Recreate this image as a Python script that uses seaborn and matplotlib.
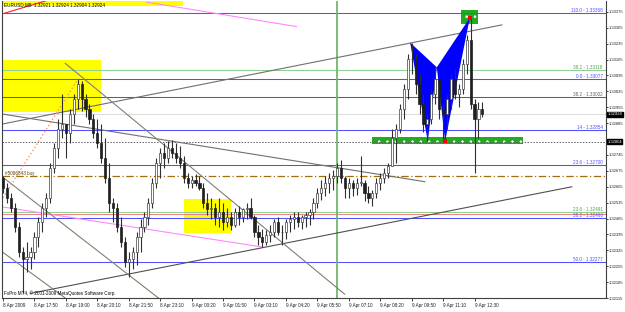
import matplotlib
matplotlib.use("Agg")
import matplotlib.pyplot as plt
import seaborn as sns
import numpy as np
import pandas as pd

# ---------------- data (EURUSD M5) ----------------
open0 = 1.32644
highs = [1.32653, 1.32622, 1.32579, 1.32535, 1.32448, 1.32339, 1.32361, 1.32339, 1.32405, 1.32470,
         1.32535, 1.32579, 1.32709, 1.32796, 1.32905, 1.33014, 1.32883, 1.32948, 1.33014, 1.33079,
         1.33070, 1.33014, 1.32970, 1.32927, 1.32905, 1.32883, 1.32818, 1.32709, 1.32557, 1.32535,
         1.32470, 1.32383, 1.32318, 1.32339, 1.32405, 1.32461, 1.32492, 1.32557, 1.32644, 1.32731,
         1.32774, 1.32796, 1.32805, 1.32809, 1.32796, 1.32783, 1.32740, 1.32666, 1.32653, 1.32661,
         1.32653, 1.32622, 1.32579, 1.32557, 1.32535, 1.32557, 1.32535, 1.32513, 1.32492, 1.32513,
         1.32522, 1.32513, 1.32535, 1.32557, 1.32479, 1.32435, 1.32418, 1.32413, 1.32435, 1.32461,
         1.32470, 1.32435, 1.32461, 1.32479, 1.32492, 1.32492, 1.32479, 1.32492, 1.32505, 1.32557,
         1.32600, 1.32635, 1.32653, 1.32666, 1.32679, 1.32709, 1.32722, 1.32653, 1.32644, 1.32635,
         1.32644, 1.32740, 1.32635, 1.32609, 1.32592, 1.32644, 1.32666, 1.32687, 1.32709, 1.32861,
         1.32883, 1.32970, 1.33057, 1.33188, 1.33240, 1.33188, 1.33101, 1.33014, 1.32927, 1.33035,
         1.33131, 1.33079, 1.32970, 1.33014, 1.33101, 1.33122, 1.33057, 1.33166, 1.33275, 1.33349,
         1.32992, 1.32979, 1.32979]
lows = [1.32579, 1.32535, 1.32492, 1.32405, 1.32296, 1.32139, 1.32231, 1.32244, 1.32287, 1.32339,
        1.32405, 1.32470, 1.32535, 1.32666, 1.32731, 1.32818, 1.32731, 1.32796, 1.32883, 1.32948,
        1.32940, 1.32914, 1.32883, 1.32818, 1.32774, 1.32709, 1.32622, 1.32492, 1.32448, 1.32405,
        1.32339, 1.32252, 1.32209, 1.32244, 1.32261, 1.32318, 1.32405, 1.32435, 1.32513, 1.32600,
        1.32644, 1.32687, 1.32709, 1.32731, 1.32709, 1.32687, 1.32622, 1.32600, 1.32600, 1.32609,
        1.32592, 1.32513, 1.32479, 1.32461, 1.32435, 1.32426, 1.32413, 1.32426, 1.32413, 1.32426,
        1.32435, 1.32448, 1.32461, 1.32461, 1.32383, 1.32348, 1.32339, 1.32348, 1.32361, 1.32383,
        1.32392, 1.32348, 1.32374, 1.32405, 1.32418, 1.32426, 1.32418, 1.32426, 1.32435, 1.32461,
        1.32513, 1.32548, 1.32566, 1.32579, 1.32592, 1.32622, 1.32622, 1.32557, 1.32557, 1.32566,
        1.32570, 1.32609, 1.32544, 1.32535, 1.32522, 1.32557, 1.32592, 1.32622, 1.32644, 1.32696,
        1.32709, 1.32840, 1.32905, 1.32992, 1.33101, 1.33014, 1.32927, 1.32848, 1.32805, 1.32883,
        1.32970, 1.32905, 1.32805, 1.32861, 1.32948, 1.32992, 1.32957, 1.33014, 1.33101, 1.32948,
        1.32666, 1.32818, 1.32914]
closes = [1.32600, 1.32557, 1.32513, 1.32426, 1.32318, 1.32287, 1.32296, 1.32318, 1.32383, 1.32448,
          1.32513, 1.32557, 1.32687, 1.32774, 1.32861, 1.32883, 1.32840, 1.32927, 1.32992, 1.33057,
          1.32992, 1.32948, 1.32905, 1.32840, 1.32796, 1.32731, 1.32644, 1.32535, 1.32513, 1.32426,
          1.32361, 1.32274, 1.32287, 1.32318, 1.32383, 1.32426, 1.32470, 1.32535, 1.32622, 1.32709,
          1.32753, 1.32731, 1.32774, 1.32753, 1.32731, 1.32709, 1.32644, 1.32622, 1.32635, 1.32622,
          1.32600, 1.32535, 1.32505, 1.32513, 1.32470, 1.32492, 1.32448, 1.32470, 1.32435, 1.32492,
          1.32470, 1.32505, 1.32513, 1.32470, 1.32405, 1.32383, 1.32361, 1.32392, 1.32405, 1.32448,
          1.32405, 1.32405, 1.32448, 1.32461, 1.32470, 1.32448, 1.32470, 1.32479, 1.32492, 1.32535,
          1.32579, 1.32600, 1.32622, 1.32644, 1.32653, 1.32687, 1.32644, 1.32600, 1.32622, 1.32600,
          1.32622, 1.32622, 1.32579, 1.32557, 1.32579, 1.32622, 1.32644, 1.32666, 1.32696, 1.32818,
          1.32861, 1.32948, 1.33035, 1.33166, 1.33166, 1.33057, 1.32970, 1.32883, 1.32905, 1.33014,
          1.33079, 1.32948, 1.32927, 1.32992, 1.33079, 1.33014, 1.33035, 1.33144, 1.33253, 1.32970,
          1.32905, 1.32948, 1.32924]

time_labels = ["8 Apr 2009", "8 Apr 17:50", "8 Apr 19:00", "8 Apr 20:10", "8 Apr 21:50",
               "8 Apr 23:10", "9 Apr 00:20", "9 Apr 01:50", "9 Apr 03:10", "9 Apr 04:20",
               "9 Apr 05:50", "9 Apr 07:10", "9 Apr 08:20", "9 Apr 09:50", "9 Apr 11:10",
               "9 Apr 12:30"]
time_label_bars = [0, 8, 16, 24, 32, 40, 48, 56, 64, 72, 80, 88, 96, 104, 112, 120]

price_ticks = [1.33375, 1.33305, 1.33235, 1.33165, 1.33095, 1.33025, 1.32955, 1.32885,
               1.32815, 1.32745, 1.32675, 1.32605, 1.32535, 1.32465, 1.32395, 1.32325,
               1.32255, 1.32185, 1.32115]

# horizontal levels: price, colour, label
level_prices = [1.33368, 1.33118, 1.33079, 1.33002, 1.32854, 1.32700, 1.32492, 1.32466, 1.32275]
level_names = ["110.0 - 1.33368", "38.2 - 1.33118", "0.0 - 1.33077", "38.2 - 1.33002",
               "14 - 1.32854", "23.6 - 1.32700", "23.6 - 1.32491", "38.2 - 1.32466",
               "50.0 - 1.32277"]
level_colors = ["#5050ff", "#90d090", "#5050ff", "#606060", "#5050ff", "#5050ff",
                "#90d090", "#5050ff", "#5050ff"]
bid_price = 1.32924
order_price = 1.32804
buy_price = 1.32652
red_level = 1.32485
vline_bar = 85.0

# trendlines (bar index, price)
trend_x0 = [-1.0, 36.6, -0.8, -0.8, 6.9, -0.8, 15.8, -0.8, -0.8, 0.0]
trend_p0 = [1.33362, 1.33418, 1.32518, 1.32879, 1.32135, 1.32927, 1.33149, 1.32657, 1.32326, 1.32557]
trend_x1 = [14.0, 74.8, 66.2, 127.0, 144.8, 107.4, 87.0, 40.0, 16.3, 19.1]
trend_p1 = [1.33440, 1.33310, 1.32339, 1.33318, 1.32605, 1.32627, 1.32131, 1.32109, 1.32109, 1.33079]
trend_col = ["#ff2020", "#ff88ff", "#ff88ff", "#707070", "#505050", "#707070", "#808070",
             "#808070", "#808070", "#ff9060"]
trend_ls = ["-", "-", "-", "-", "-", "-", "-", "-", "-", ":"]

# butterfly pattern vertices
pat_x = [103.6, 108.1, 110.4, 112.5, 118.8]
pat_p = [1.33240, 1.32805, 1.33131, 1.32805, 1.33349]

# rectangles: x0, x1, p0, p1, colour
rect_x0 = [-1.0, -1.0, 46.1, 116.5, 93.9]
rect_x1 = [45.8, 24.9, 58.0, 120.9, 132.3]
rect_p0 = [1.33401, 1.32935, 1.32400, 1.33323, 1.32792]
rect_p1 = [1.33440, 1.33162, 1.32553, 1.33383, 1.32822]
rect_col = ["#ffff00", "#ffff00", "#ffff00", "#22aa22", "#22aa22"]

# ---------------- figure ----------------
sns.set_theme(style="white")
plt.rcParams["font.family"] = ["Liberation Sans", "DejaVu Sans"]
plt.rcParams["hatch.linewidth"] = 0.6
W, H = 625, 312
fig = plt.figure(figsize=(W / 100, H / 100), dpi=100)
ax = fig.add_axes([2 / W, (H - 298) / H, (606 - 2) / W, (298 - 1) / H])
ax.set_facecolor("white")
ax.set_xlim(-0.254, 153.45)
ax.set_ylim(1.32131, 1.33423)

# rectangles
for x0, x1, p0, p1, c in zip(rect_x0, rect_x1, rect_p0, rect_p1, rect_col):
    hatch = ".." if c != "#ffff00" else None
    ax.add_patch(plt.Rectangle((x0, p0), x1 - x0, p1 - p0, facecolor=c,
                               edgecolor="white" if hatch else c, hatch=hatch,
                               linewidth=0, zorder=1))

# horizontal levels
for p, c in zip(level_prices, level_colors):
    ax.axhline(p, color=c, lw=0.75, zorder=2)
ax.axhline(red_level, color="#f08080", lw=0.7, zorder=2)
ax.axhline(bid_price, color="#dddddd", lw=0.8, zorder=1.5)
ax.axhline(order_price, color="#606060", lw=0.7, ls=(0, (1.5, 1.5)), zorder=2)
ax.axhline(buy_price, color="#a07010", lw=0.9, ls=(0, (6, 2, 1, 2)), zorder=2)
ax.axvline(vline_bar, color="#70b870", lw=1.3, zorder=2)

# trendlines
for x0, p0, x1, p1, c, ls in zip(trend_x0, trend_p0, trend_x1, trend_p1, trend_col, trend_ls):
    ax.plot([x0, x1], [p0, p1], color=c, lw=0.8 if ls == "-" else 1.0, ls=ls, zorder=2.5)

# butterfly harmonic pattern
ax.fill([pat_x[0], pat_x[1], pat_x[2]], [pat_p[0], pat_p[1], pat_p[2]], color="#0000ff", zorder=3, lw=0)
ax.fill([pat_x[2], pat_x[3], pat_x[4]], [pat_p[2], pat_p[3], pat_p[4]], color="#0000ff", zorder=3, lw=0)

# candles
n = len(highs)
opens = [open0] + closes[:-1]
df = pd.DataFrame({"bar": np.arange(n), "open": opens, "high": highs, "low": lows, "close": closes})
top = df[["high", "open", "close"]].max(axis=1)
bot = df[["low", "open", "close"]].min(axis=1)
ax.vlines(df["bar"], bot, top, color="#303030", lw=0.8, zorder=4)
bull = df["close"] >= df["open"]
body_lo = np.minimum(df["open"], df["close"])
body_h = np.maximum(np.abs(df["close"] - df["open"]), 0.00002)
ax.bar(df["bar"][bull], body_h[bull], bottom=body_lo[bull], width=0.55,
       color="white", edgecolor="#404040", linewidth=0.5, zorder=5)
ax.bar(df["bar"][~bull], body_h[~bull], bottom=body_lo[~bull], width=0.55,
       color="#202020", edgecolor="#202020", linewidth=0.5, zorder=5)

# pattern markers
mk = pd.DataFrame({"bar": [pat_x[3], pat_x[4]], "price": [pat_p[3], pat_p[4]]})
sns.scatterplot(data=mk, x="bar", y="price", color="#ff0000", s=6, marker="s",
                linewidth=0, zorder=6, ax=ax)
ax.set_xlabel("")
ax.set_ylabel("")

# level labels
fs = 3.3
for p, c, t in zip(level_prices, level_colors, level_names):
    ax.text(152.6, p, t, color=c if c != "#90d090" else "#50a050", fontsize=fs,
            ha="right", va="bottom", zorder=7)
ax.text(0.6, buy_price, "#5096843 buy", fontsize=fs, color="#604000", ha="left",
        va="bottom", zorder=7)

# axes styling
ax.spines["top"].set_visible(False)
for s in ["left", "right", "bottom"]:
    ax.spines[s].set_color("#404040")
    ax.spines[s].set_linewidth(0.8)
ax.yaxis.tick_right()
ax.set_yticks(price_ticks)
# the 1.32815 label sits under the order-price box, as in the original
ax.set_yticklabels([("" if abs(p - order_price) < 0.0002 else f"{p:.5f}") for p in price_ticks])
ax.tick_params(axis="y", right=True, length=1.5, width=0.6, pad=0.6, labelsize=3.0,
               colors="#202020")
ax.set_xticks(time_label_bars)
ax.set_xticklabels(time_labels)
ax.tick_params(axis="x", bottom=True, length=2.0, width=0.6, pad=1.5, labelsize=fs,
               colors="#202020")
for lab in ax.get_xticklabels():
    lab.set_horizontalalignment("left")

# price boxes on the right axis
for p in [bid_price, order_price]:
    ax.annotate(f"{p:.5f}", xy=(1.0, p), xycoords=("axes fraction", "data"),
                xytext=(1.0, 0), textcoords="offset points", fontsize=3.0, color="white",
                va="center", ha="left",
                bbox=dict(boxstyle="square,pad=0.1", fc="black", ec="black"), zorder=8,
                annotation_clip=False)

# header and footer text
ax.text(0.003, 0.996, "EURUSD,M5  1.32921 1.32924 1.32904 1.32924", transform=ax.transAxes,
        fontsize=fs, color="black", ha="left", va="top", zorder=8)
ax.text(0.003, 0.006, "FxPro MT4, © 2001-2009 MetaQuotes Software Corp.", transform=ax.transAxes,
        fontsize=fs, color="black", ha="left", va="bottom", zorder=8)

fig.savefig("out.png", dpi=100, facecolor="white")
